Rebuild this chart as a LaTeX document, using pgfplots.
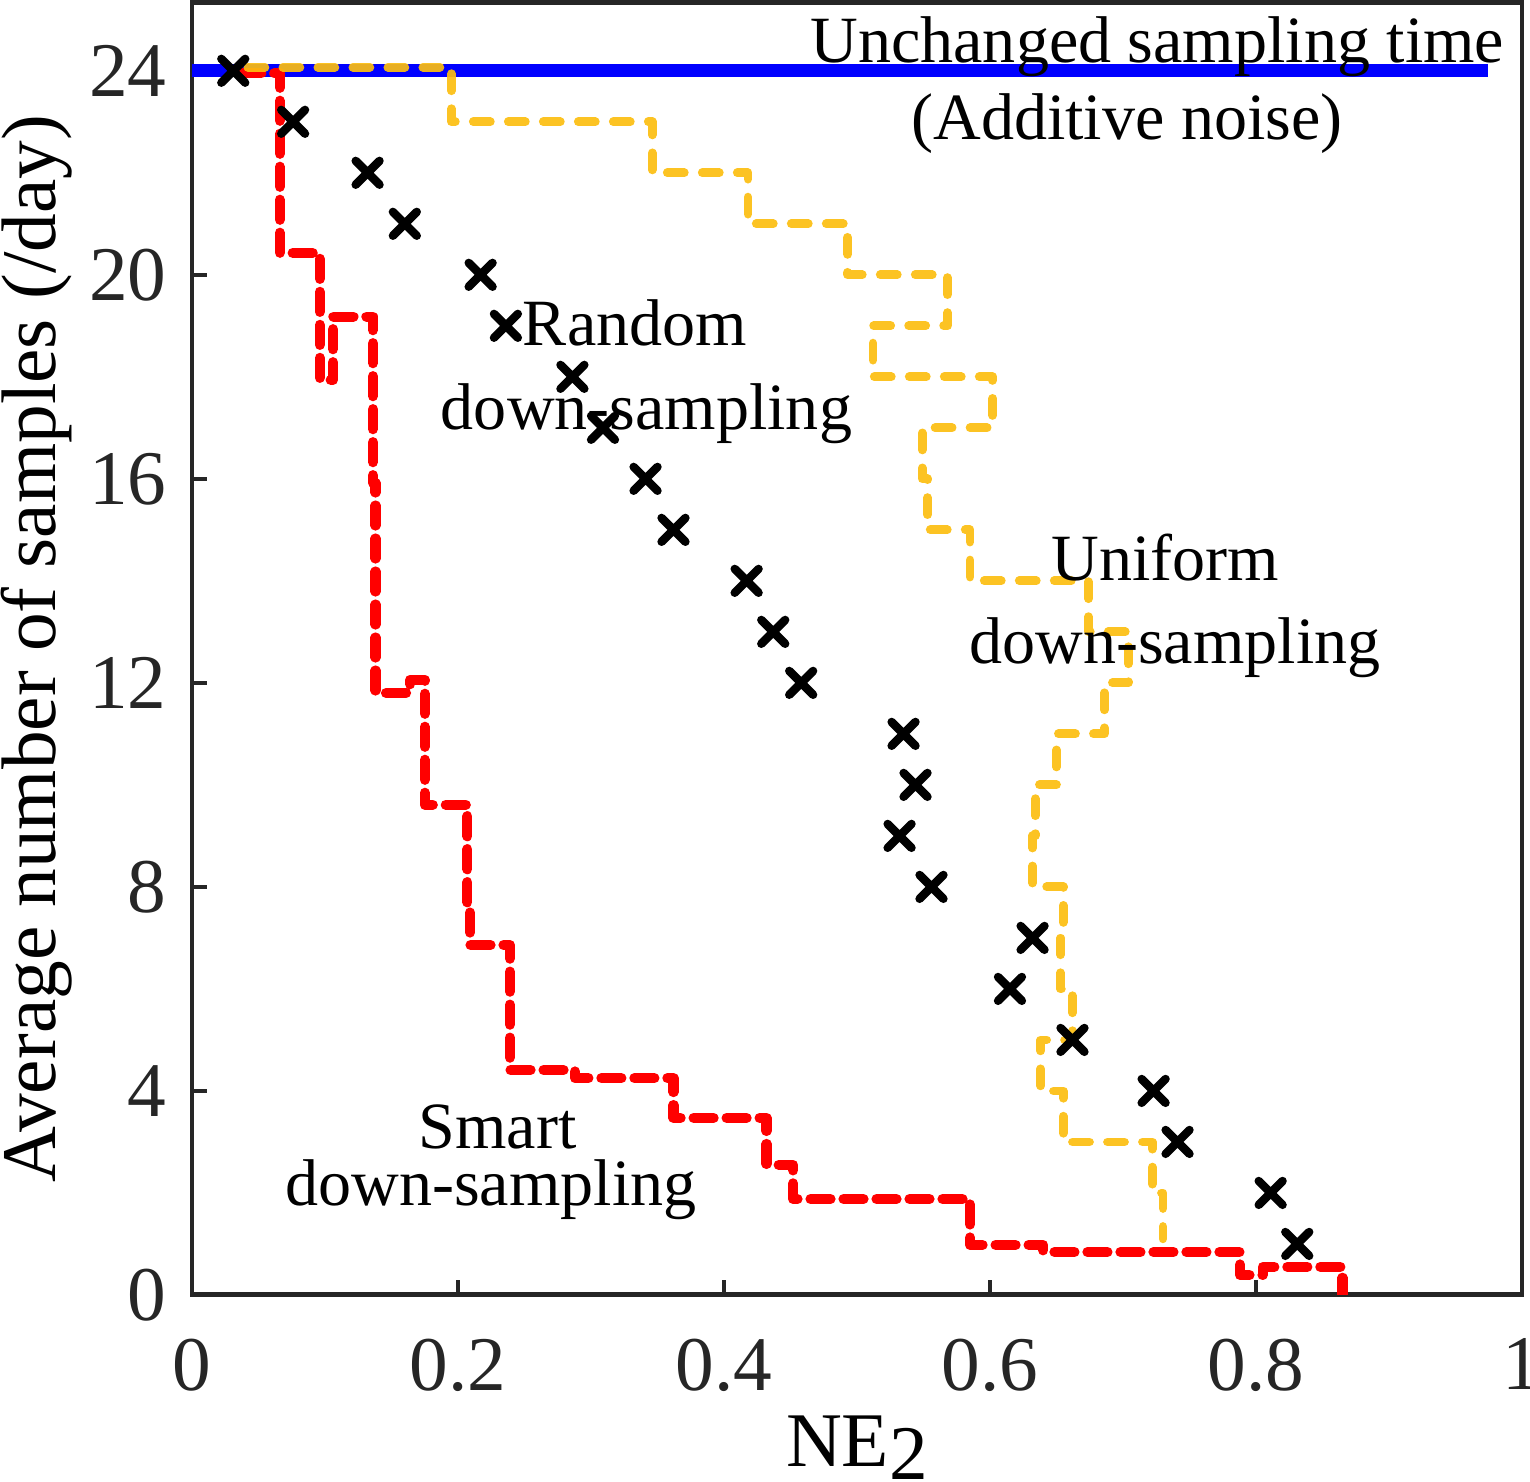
\documentclass[border=0pt]{standalone}
\usepackage{fontspec}
\setmainfont{Liberation Serif}
\usepackage{pgfplots}
\pgfplotsset{compat=1.18}
\definecolor{uniyel}{RGB}{252,190,16}
\definecolor{axgray}{RGB}{38,38,38}
\newcommand\ticksize{\fontsize{22}{26}\selectfont}
\newcommand\annsize{\fontsize{18.8}{22.5}\selectfont}

\begin{document}
\begin{tikzpicture}
\begin{axis}[
  scale only axis, width=13.3cm, height=12.92cm,
  xmin=0, xmax=1, ymin=0, ymax=25.33,
  xtick={0,0.2,0.4,0.6,0.8,1}, ytick={0,4,8,12,16,20,24},
  tick pos=left, tick align=inside,
  major tick length=0.15cm,
  every tick/.style={axgray, line width=1.2pt},
  axis line style={axgray, line width=1.4pt},
  /pgf/number format/assume math mode=true,
  tick label style={font=\ticksize, text=axgray, inner sep=0pt},
  xticklabel style={yshift=-0.43cm},
  yticklabel style={xshift=-0.25cm},
  xlabel={NE\raisebox{-0.17em}{2}},
  ylabel={Average number of samples (/day)},
  label style={font=\ticksize, inner sep=0pt},
  xlabel style={at={(axis description cs:0.5,-0.0929)}, anchor=north},
  ylabel style={at={(axis description cs:-0.0895,0.5)}, anchor=south},
]
% unchanged sampling time
\addplot[blue, line width=3.7pt] coordinates {(0,24)(0.9744,24)};

% smart down-sampling
\addplot[red, line width=2.9pt, line cap=round, line join=round,
  dash pattern=on 0.2cm off 0.13cm] coordinates {
  (0.037,23.95)(0.066,23.95)(0.066,20.43)(0.096,20.43)(0.096,17.94)(0.106,17.94)
  (0.106,19.18)(0.136,19.18)(0.136,15.92)(0.138,15.92)(0.138,11.80)(0.164,11.80)
  (0.164,12.06)(0.175,12.06)(0.175,9.61)(0.207,9.61)(0.207,7.55)(0.209,7.55)
  (0.209,6.86)(0.239,6.86)(0.239,4.41)(0.288,4.41)(0.288,4.25)(0.362,4.25)
  (0.362,3.47)(0.432,3.47)(0.432,2.55)(0.452,2.55)(0.452,1.88)(0.585,1.88)
  (0.585,0.98)(0.640,0.98)(0.640,0.84)(0.788,0.84)(0.788,0.39)(0.805,0.39)
  (0.805,0.55)(0.865,0.55)(0.865,0)};

% random down-sampling
\addplot[only marks, mark=x, mark size=4.8pt, black,
  mark options={line width=2.4pt, line cap=round}] coordinates {
  (0.031,24)(0.076,23)(0.132,22)(0.160,21)(0.217,20)(0.236,19)(0.286,18)
  (0.309,17)(0.341,16)(0.362,15)(0.417,14)(0.437,13)(0.458,12)(0.535,11)
  (0.544,10)(0.532,9)(0.556,8)(0.632,7)(0.615,6)(0.662,5)(0.723,4)
  (0.741,3)(0.811,2)(0.831,1)};

% uniform down-sampling
\addplot[uniyel, opacity=0.92, line width=2.5pt, line cap=round, line join=round,
  dash pattern=on 0.17cm off 0.18cm] coordinates {
  (0.042,24.07)(0.195,24.07)(0.195,23)(0.346,23)(0.346,22)(0.418,22)(0.418,21)
  (0.493,21)(0.493,20)(0.568,20)(0.568,19)(0.512,19)(0.512,18)(0.602,18)
  (0.602,17)(0.549,17)(0.549,16)(0.553,16)(0.553,15)(0.585,15)(0.585,14)
  (0.674,14)(0.674,13)(0.704,13)(0.704,12)(0.686,12)(0.686,11)(0.650,11)
  (0.650,10)(0.634,10)(0.634,9)(0.632,9)(0.632,8)(0.655,8)(0.655,7)
  (0.653,7)(0.653,6)(0.662,6)(0.662,5)(0.638,5)(0.638,4)(0.655,4)
  (0.655,3)(0.722,3)(0.722,2)(0.730,2)(0.730,1.1)};

\node[font=\annsize, anchor=base, inner sep=0pt] at (axis cs:0.7258,24.16) {Unchanged sampling time};
\node[font=\annsize, anchor=base, inner sep=0pt] at (axis cs:0.703,22.65) {(Additive noise)};
\node[font=\annsize, anchor=base, inner sep=0pt] at (axis cs:0.333,18.61) {Random};
\node[font=\annsize, anchor=base, inner sep=0pt] at (axis cs:0.3417,16.96) {down-sampling};
\node[font=\annsize, anchor=base, inner sep=0pt] at (axis cs:0.732,14.0) {Uniform};
\node[font=\annsize, anchor=base, inner sep=0pt] at (axis cs:0.739,12.37) {down-sampling};
\node[font=\annsize, anchor=base, inner sep=0pt] at (axis cs:0.2297,2.88) {Smart};
\node[font=\annsize, anchor=base, inner sep=0pt] at (axis cs:0.2248,1.745) {down-sampling};

\coordinate (bl) at (rel axis cs:-0.1444,-0.1447);
\coordinate (tr) at (rel axis cs:1.006,1.0023);
\end{axis}
\pgfresetboundingbox
\path[use as bounding box] (bl) rectangle (tr);
\end{tikzpicture}
\end{document}
